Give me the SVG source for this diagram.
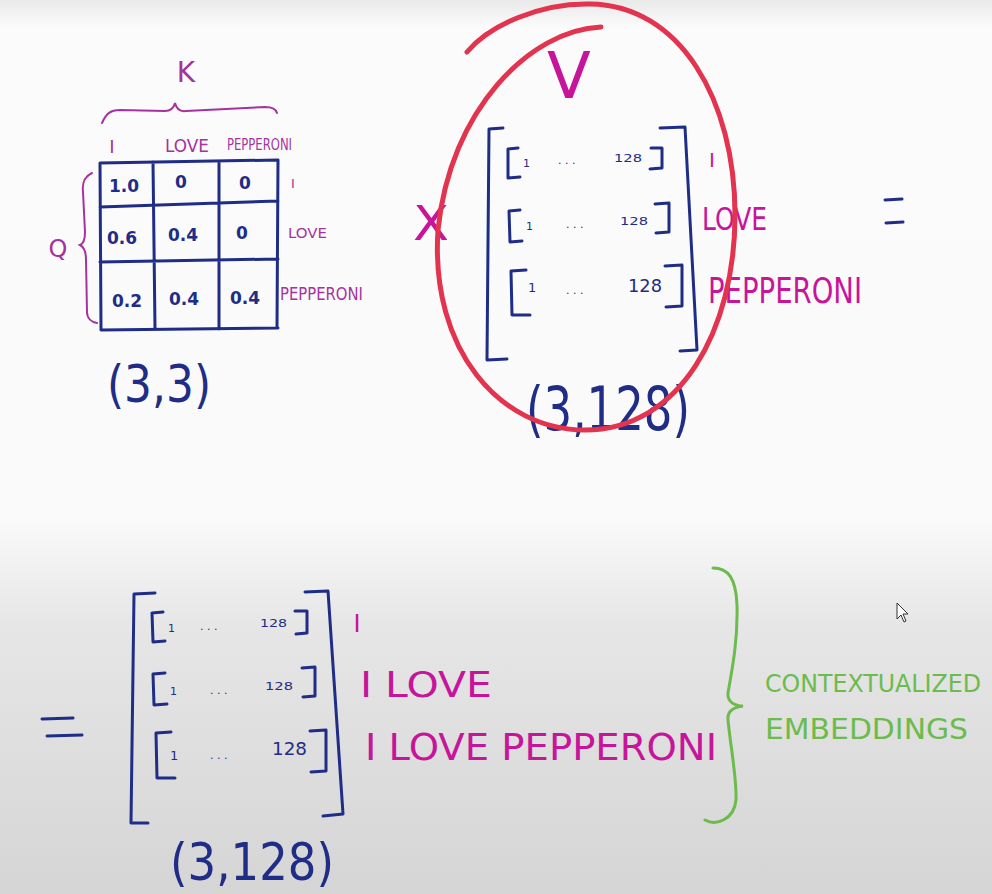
<svg xmlns="http://www.w3.org/2000/svg" width="992" height="894" viewBox="0 0 992 894">
<defs>
<linearGradient id="bg" x1="0" y1="0" x2="0" y2="1">
<stop offset="0" stop-color="#e9e9e9"/>
<stop offset="0.03" stop-color="#fbfbfb"/>
<stop offset="0.58" stop-color="#fafafa"/>
<stop offset="0.70" stop-color="#e6e6e6"/>
<stop offset="1" stop-color="#d5d5d5"/>
</linearGradient>
</defs>
<style>
.nv{fill:none;stroke:#1f2d86;stroke-width:3;stroke-linecap:round;stroke-linejoin:round}
.tn{fill:#1f2d86;font-family:"DejaVu Sans",sans-serif}
.cell{font-size:17px;font-weight:bold;text-anchor:middle}
.pl{fill:#a5339f;font-family:"DejaVu Sans",sans-serif}
.mg{fill:#c7159b;font-family:"DejaVu Sans",sans-serif}
.gr{fill:#6cbb4c;font-family:"DejaVu Sans",sans-serif}
.sm{font-size:11px}
</style>
<rect x="0" y="0" width="992" height="894" fill="url(#bg)"/>

<g id="attention-matrix">
<path class="nv" d="M100 163 L278 160 M101 330 L278 328 M100 163 L101 330 M278 160 L277 328 M100 207 L278 201 M100 262 L278 259 M153 162 L155 329 M219 161 L219 329"/>
<text class="tn cell" x="124" y="192">1.0</text>
<text class="tn cell" x="181" y="188">0</text>
<text class="tn cell" x="245" y="189">0</text>
<text class="tn cell" x="122" y="244">0.6</text>
<text class="tn cell" x="183" y="241">0.4</text>
<text class="tn cell" x="242" y="239">0</text>
<text class="tn cell" x="127" y="307">0.2</text>
<text class="tn cell" x="184" y="305">0.4</text>
<text class="tn cell" x="245" y="304">0.4</text>
<path d="M102 123 C106 114 110 110 120 110 L165 111 C171 111 174 107 175 103 C176 107 179 112 186 111 L265 107 C271 107 276 109 277 113" fill="none" stroke="#a5339f" stroke-width="2" stroke-linecap="round"/>
<text class="pl" x="186" y="82" font-size="28" text-anchor="middle">K</text>
<text class="pl" x="112" y="153" font-size="18" text-anchor="middle">I</text>
<text class="pl" x="165" y="152" font-size="18" textLength="44" lengthAdjust="spacingAndGlyphs">LOVE</text>
<text class="pl" x="227" y="150" font-size="16" textLength="65" lengthAdjust="spacingAndGlyphs">PEPPERONI</text>
<text class="pl" x="293" y="188" font-size="13" text-anchor="middle">I</text>
<text class="pl" x="288" y="238" font-size="14" textLength="39" lengthAdjust="spacingAndGlyphs">LOVE</text>
<text class="pl" x="280" y="300" font-size="18" textLength="83" lengthAdjust="spacingAndGlyphs">PEPPERONI</text>
<path d="M92 173 C84 177 82 183 83 192 L85 232 C85 240 83 244 80 245 C84 247 86 252 86 260 L87 312 C87 318 91 322 97 323" fill="none" stroke="#a5339f" stroke-width="2" stroke-linecap="round"/>
<text class="pl" x="58" y="257" font-size="24" text-anchor="middle">Q</text>
<text class="tn" x="107" y="402" font-size="52" textLength="104" lengthAdjust="spacingAndGlyphs">(3,3)</text>
</g>

<g id="times">
<text class="mg" x="431" y="240" font-size="48" text-anchor="middle" textLength="36" lengthAdjust="spacingAndGlyphs">X</text>
</g>

<g id="value-matrix">
<text class="mg" x="569" y="98" font-size="64" text-anchor="middle">V</text>
<path class="nv" d="M503 128 L489 129 L487 360 L507 359"/>
<path class="nv" d="M660 128 L685 127 L697 350 L680 351"/>
<path class="nv" d="M518 148 L508 149 L508 178 L520 177 M651 148 L662 148 L662 168 L650 169"/>
<text class="tn sm" x="523" y="167">1</text>
<text class="tn sm" x="558" y="164">. . .</text>
<text class="tn sm" x="614" y="162" textLength="28" lengthAdjust="spacingAndGlyphs">128</text>
<path class="nv" d="M520 210 L509 211 L510 242 L522 241 M655 204 L669 203 L669 232 L656 233"/>
<text class="tn sm" x="526" y="230">1</text>
<text class="tn sm" x="566" y="228">. . .</text>
<text class="tn sm" x="620" y="225" textLength="28" lengthAdjust="spacingAndGlyphs">128</text>
<path class="nv" d="M526 270 L511 271 L512 315 L530 315 M665 266 L682 265 L682 306 L666 307"/>
<text class="tn" x="528" y="292" font-size="13">1</text>
<text class="tn sm" x="566" y="294">. . .</text>
<text class="tn" x="628" y="292" font-size="17" textLength="34" lengthAdjust="spacingAndGlyphs">128</text>
<text class="mg" x="712" y="167" font-size="20" text-anchor="middle">I</text>
<text class="mg" x="702" y="230" font-size="32" textLength="65" lengthAdjust="spacingAndGlyphs">LOVE</text>
<text class="mg" x="708" y="303" font-size="36" textLength="154" lengthAdjust="spacingAndGlyphs">PEPPERONI</text>
<text class="tn" x="526" y="430" font-size="60" textLength="164" lengthAdjust="spacingAndGlyphs">(3,128)</text>
<path d="M601 27 C530 30 450 110 438 230 C430 350 500 430 585 430 C680 430 735 330 735 215 C735 100 680 5 590 4 C540 3 490 25 467 52" fill="none" stroke="#e2344f" stroke-width="5" stroke-linecap="round"/>
</g>

<g id="equals-top">
<path class="nv" d="M885 200 L902 199 M886 223 L903 222"/>
</g>

<g id="equals-bottom">
<path class="nv" d="M42 719 L73 718 M47 736 L82 735"/>
</g>

<g id="result-matrix">
<path class="nv" d="M155 593 L134 594 L131 823 L148 823"/>
<path class="nv" d="M305 592 L328 591 L343 814 L323 816"/>
<path class="nv" d="M163 612 L152 613 L153 642 L165 641 M295 611 L307 611 L307 633 L296 634"/>
<text class="tn sm" x="168" y="632">1</text>
<text class="tn sm" x="200" y="630">. . .</text>
<text class="tn sm" x="260" y="627" textLength="27" lengthAdjust="spacingAndGlyphs">128</text>
<path class="nv" d="M165 673 L153 674 L154 705 L167 704 M302 668 L315 667 L315 696 L303 697"/>
<text class="tn sm" x="170" y="695">1</text>
<text class="tn sm" x="210" y="694">. . .</text>
<text class="tn sm" x="265" y="690" textLength="28" lengthAdjust="spacingAndGlyphs">128</text>
<path class="nv" d="M171 732 L156 733 L157 778 L175 778 M310 731 L326 730 L326 771 L311 772"/>
<text class="tn" x="170" y="760" font-size="13">1</text>
<text class="tn sm" x="210" y="759">. . .</text>
<text class="tn" x="272" y="755" font-size="17" textLength="35" lengthAdjust="spacingAndGlyphs">128</text>
<text class="mg" x="357" y="632" font-size="24" text-anchor="middle">I</text>
<text class="mg" x="360" y="697" font-size="36" textLength="132" lengthAdjust="spacingAndGlyphs">I LOVE</text>
<text class="mg" x="365" y="760" font-size="38" textLength="352" lengthAdjust="spacingAndGlyphs">I LOVE PEPPERONI</text>
<text class="tn" x="170" y="880" font-size="52" textLength="164" lengthAdjust="spacingAndGlyphs">(3,128)</text>
</g>

<g id="contextualized-label">
<path d="M713 568 C728 568 736 578 737 605 C738 640 732 670 728 693 C727 702 735 706 743 706 C735 707 727 710 728 720 C731 750 737 780 736 800 C734 820 716 826 705 820" fill="none" stroke="#6cbb4c" stroke-width="3" stroke-linecap="round"/>
<text class="gr" x="765" y="692" font-size="25" textLength="216" lengthAdjust="spacingAndGlyphs">CONTEXTUALIZED</text>
<text class="gr" x="765" y="739" font-size="28" textLength="203" lengthAdjust="spacingAndGlyphs">EMBEDDINGS</text>
</g>

<g id="cursor">
<path d="M897 603 L897 619 L901 615 L904 622 L906 621 L903 614 L908 614 Z" fill="#ffffff" stroke="#333333" stroke-width="1" stroke-linejoin="round"/>
</g>
</svg>
